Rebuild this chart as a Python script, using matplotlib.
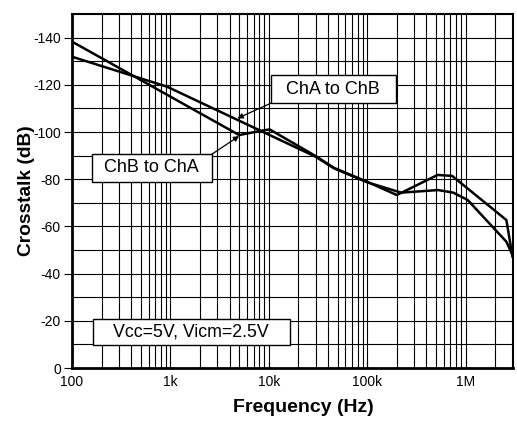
import matplotlib
matplotlib.use("Agg")
import matplotlib.pyplot as plt
from matplotlib.patches import Rectangle
from matplotlib.ticker import FixedLocator, LogLocator, NullFormatter

plt.rcParams['font.family'] = ['Liberation Sans', 'DejaVu Sans']
plt.rcParams['axes.unicode_minus'] = False

# ---- data ----
freq_ab = [100, 925, 30000, 46000, 100000, 222000, 525000, 750000, 1050000, 2600000, 3000000]
xtalk_ab = [-131.9, -119.2, -89.5, -84.6, -78.7, -74.3, -75.4, -74.3, -71.2, -53.5, -47.9]

freq_ba = [100, 5000, 8300, 10200, 30000, 46000, 100000, 200000, 520000, 730000, 2600000, 3000000]
xtalk_ba = [-138.3, -98.7, -100.5, -101.1, -89.8, -84.8, -78.9, -73.3, -81.8, -81.4, -62.7, -47.2]

xticks = [100, 1e3, 1e4, 1e5, 1e6]
xtick_labels = ["100", "1k", "10k", "100k", "1M"]
yticks = [0, -20, -40, -60, -80, -100, -120, -140]
ytick_labels = ["0", "-20", "-40", "-60", "-80", "-100", "-120", "-140"]

W, H = 517, 422
fig = plt.figure(figsize=(W / 100, H / 100), dpi=100)
L, R, T, B = 72, 512.5, 14, 368
ax = fig.add_axes([L / W, 1 - B / H, (R - L) / W, (B - T) / H])

ax.set_xscale('log')
ax.set_xlim(100, 3e6)
ax.set_ylim(0, -150)

ax.xaxis.set_major_locator(FixedLocator(xticks))
ax.set_xticklabels(xtick_labels)
ax.xaxis.set_minor_locator(LogLocator(base=10, subs=range(2, 10), numticks=50))
ax.xaxis.set_minor_formatter(NullFormatter())
ax.yaxis.set_major_locator(FixedLocator(yticks))
ax.set_yticklabels(ytick_labels)
ax.yaxis.set_minor_locator(FixedLocator([-10, -30, -50, -70, -90, -110, -130]))

ax.grid(True, which='both', color='black', linewidth=0.8)
ax.set_axisbelow(True)

ax.tick_params(axis='both', which='major', labelsize=10, colors='black')
ax.tick_params(axis='x', which='both', direction='in', length=5)
ax.tick_params(axis='x', which='major', pad=5)
ax.tick_params(axis='y', which='major', direction='out', length=6, pad=2)
ax.tick_params(axis='y', which='minor', direction='in', length=5)

for s in ['left', 'bottom']:
    ax.spines[s].set_linewidth(2.0)
for s in ['top', 'right']:
    ax.spines[s].set_linewidth(1.5)

ax.plot(freq_ab, xtalk_ab, color='black', linewidth=1.8, zorder=3)
ax.plot(freq_ba, xtalk_ba, color='black', linewidth=1.8, zorder=3)

ax.set_xlabel("Frequency (Hz)", fontsize=14, fontweight='bold')
ax.set_ylabel("Crosstalk (dB)", fontsize=13.8, fontweight='bold')
ax.xaxis.set_label_coords(0.525, -0.087)
ax.yaxis.set_label_coords(-0.084, 0.5)


def fx(x):
    return (x - L) / (R - L)


def fy(y):
    return (B - y) / (B - T)


def box(x0, y0, x1, y1, text, size=13):
    ax.add_patch(Rectangle((fx(x0), fy(y1)), fx(x1) - fx(x0), fy(y0) - fy(y1),
                           transform=ax.transAxes, facecolor='white',
                           edgecolor='black', linewidth=1.0, zorder=5))
    ax.text((fx(x0) + fx(x1)) / 2, (fy(y0) + fy(y1)) / 2, text,
            transform=ax.transAxes, ha='center', va='center',
            fontsize=size, zorder=6)


box(270.7, 75, 395.7, 103.3, "ChA to ChB", 13)
box(92, 154.3, 211.7, 181.7, "ChB to ChA", 13)
box(92.5, 319.3, 290, 345, "Vcc=5V, Vicm=2.5V", 12.8)

arrow = dict(arrowstyle='-|>', color='black', linewidth=0.9, mutation_scale=8,
             shrinkA=0, shrinkB=0)
ax.annotate("", xy=(4800, -105.8), xycoords='data',
            xytext=(fx(270.7), fy(103.3)), textcoords='axes fraction',
            arrowprops=arrow, zorder=6)
ax.annotate("", xy=(5000, -98.3), xycoords='data',
            xytext=(fx(211.7), fy(154.3)), textcoords='axes fraction',
            arrowprops=arrow, zorder=6)

fig.savefig("out.png", dpi=100)
